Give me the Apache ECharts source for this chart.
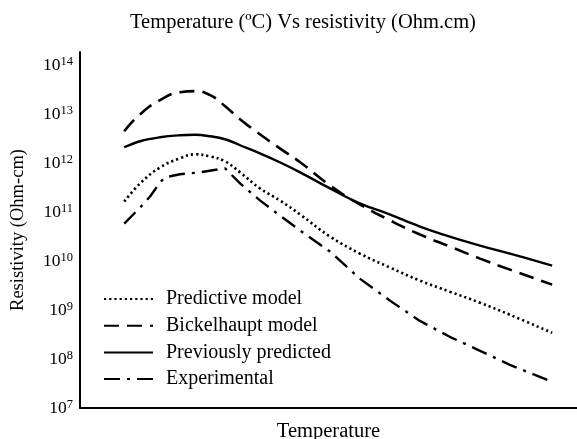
<!DOCTYPE html>
<html>
<head>
<meta charset="utf-8">
<script src="https://cdn.jsdelivr.net/npm/echarts@6/dist/echarts.min.js"></script>
<style>
html,body{margin:0;padding:0;background:#fff;}
#chart{width:577px;height:439px;}
</style>
</head>
<body>
<div id="chart"></div>
<script>
// Relative temperature positions (no tick labels in the original)
var temps = [8.9, 12.1, 16.1, 20.1, 23.1, 26.2, 29.2, 32.2, 36.2, 40.2, 44.3, 50.3, 56.3, 62.4, 68.4, 74.4, 80.5, 86.5, 95.0];
var tempsExp = [8.9, 12.1, 14.1, 16.1, 17.1, 20.1, 24.1, 29.2, 32.2, 36.2, 40.2, 44.3, 50.3, 56.3, 62.4, 68.4, 74.4, 80.5, 86.5, 95.0];

// Resistivity (Ohm-cm)
var predictive = [1.64e11, 3.85e11, 8.17e11, 1.25e12, 1.51e12, 1.37e12, 1.08e12, 6.46e11, 3.04e11, 1.73e11, 8.9e10, 3.16e10, 1.42e10, 7.35e9, 3.98e9, 2.37e9, 1.41e9, 8.0e8, 3.43e8];
var bickelhaupt = [4.46e12, 9.93e12, 1.92e13, 2.80e13, 2.94e13, 2.43e13, 1.45e13, 7.85e12, 3.87e12, 2.00e12, 1.04e12, 3.50e11, 1.43e11, 6.73e10, 3.48e10, 1.98e10, 1.12e10, 6.68e9, 3.30e9];
var previous = [2.10e12, 2.79e12, 3.36e12, 3.69e12, 3.78e12, 3.52e12, 3.06e12, 2.31e12, 1.58e12, 1.04e12, 6.46e11, 3.04e11, 1.50e11, 8.9e10, 5.07e10, 3.16e10, 2.07e10, 1.42e10, 8.07e9];
var experimental = [5.8e10, 1.24e11, 2.08e11, 4.03e11, 5.1e11, 5.9e11, 6.46e11, 7.8e11, 3.85e11, 1.73e11, 8.5e10, 4.2e10, 1.56e10, 4.37e9, 1.55e9, 6.0e8, 2.84e8, 1.47e8, 7.6e7, 3.41e7];

var seriesNames = ['Predictive model', 'Bickelhaupt model', 'Previously predicted', 'Experimental'];
var titleText = 'Temperature (\u00BAC) Vs resistivity (Ohm.cm)';
var xName = 'Temperature';
var yName = 'Resistivity (Ohm-cm)';

function pairs(xs, ys) { return xs.map(function (x, i) { return [x, ys[i]]; }); }

var FONT = '"Liberation Serif", "Times New Roman", serif';
var chart = echarts.init(document.getElementById('chart'), null, {renderer: 'canvas'});

function lineSeries(name, data, style, smooth) {
  return {
    name: name, type: 'line', data: data, symbol: 'circle', showSymbol: false, smooth: smooth,
    lineStyle: Object.assign({color: '#000'}, style),
    itemStyle: {color: '#000'},
    silent: true, animation: false
  };
}

chart.setOption({
  animation: false,
  backgroundColor: '#fff',
  title: {
    text: titleText, left: 130, top: 12, padding: 0,
    textStyle: {fontFamily: FONT, fontSize: 20.5, fontWeight: 'normal', color: '#000'}
  },
  grid: {left: 80, right: 0, top: 52, bottom: 31, outerBoundsMode: 'none', containLabel: false},
  legend: {
    orient: 'vertical', left: 103, top: 289, padding: 0,
    itemWidth: 49, itemHeight: 14, itemGap: 6.7,
    data: seriesNames,
    itemStyle: {opacity: 0},
    textStyle: {fontFamily: FONT, fontSize: 20, color: '#000', lineHeight: 20, padding: [0, 0, 0, 8]}
  },
  xAxis: {
    type: 'value', min: 0, max: 100,
    name: xName, nameLocation: 'middle', nameGap: 13,
    nameTextStyle: {fontFamily: FONT, fontSize: 20.5, color: '#000', verticalAlign: 'top'},
    axisLine: {show: true, lineStyle: {color: '#000', width: 2}},
    axisTick: {show: false}, axisLabel: {show: false}, splitLine: {show: false}
  },
  yAxis: {
    type: 'log', logBase: 10, min: 1e7, max: 1.85e14, splitNumber: 7,
    name: yName, nameLocation: 'middle', nameGap: 52,
    nameTextStyle: {fontFamily: FONT, fontSize: 18.5, color: '#000'},
    axisLine: {show: true, lineStyle: {color: '#000', width: 2}},
    axisTick: {show: false}, splitLine: {show: false},
    axisLabel: {
      margin: 7,
      formatter: function (v) {
        var lg = Math.log10(v), e = Math.round(lg);
        if (Math.abs(lg - e) > 1e-6) return '';
        return '{b|10}{s|' + e + '}';
      },
      rich: {
        b: {fontFamily: FONT, fontSize: 17.5, color: '#000', lineHeight: 20},
        s: {fontFamily: FONT, fontSize: 12.5, color: '#000', verticalAlign: 'top', lineHeight: 12}
      }
    }
  },
  series: [
    lineSeries(seriesNames[0], pairs(temps, predictive), {width: 2.6, type: [2.2, 3]}, 0.4),
    lineSeries(seriesNames[1], pairs(temps, bickelhaupt), {width: 2.6, type: [15, 8]}, 0.5),
    lineSeries(seriesNames[2], pairs(temps, previous), {width: 2.4, type: 'solid'}, 0.4),
    lineSeries(seriesNames[3], pairs(tempsExp, experimental), {width: 2.4, type: [16, 7, 3, 7]}, false)
  ]
});
</script>
</body>
</html>
